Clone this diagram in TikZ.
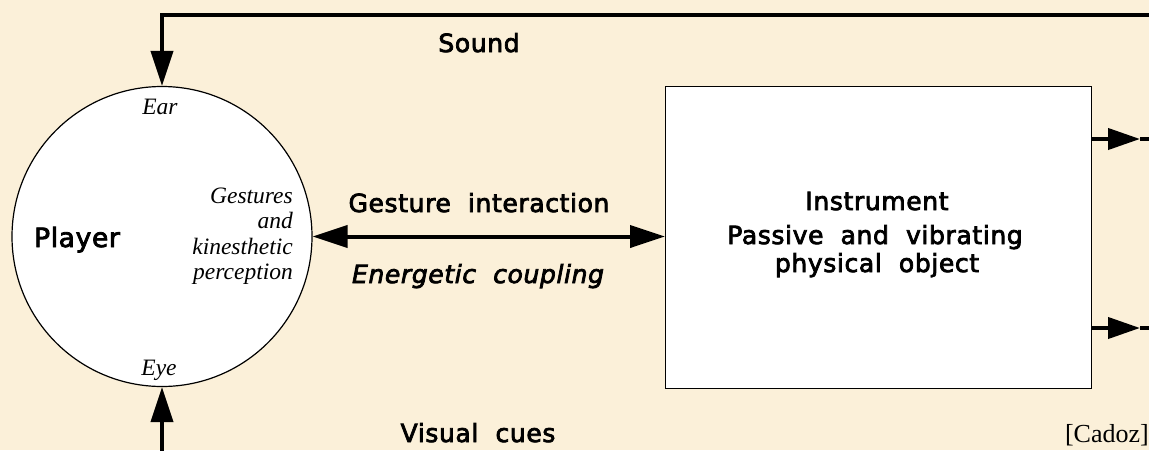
\documentclass[tikz,border=0pt]{standalone}
\usepackage{fontspec}
\usetikzlibrary{arrows.meta}
\newfontfamily\labelfont[LetterSpace=2.5,WordSpace=2,FakeBold=3]{DejaVu Sans}
\newfontfamily\noteserif{Liberation Serif}
\definecolor{parch}{RGB}{251,240,217}
\tikzset{
  conn/.style={line width=4pt},
  bigtip/.style={conn,-{Triangle[length=35pt,width=22pt]}},
  bothtip/.style={conn,{Triangle[length=35pt,width=22pt]}-{Triangle[length=35pt,width=22pt]}},
  outtip/.style={conn,-{Triangle[length=32pt,width=21pt]}},
  lbl/.style={font=\labelfont\fontsize{25}{30}\selectfont, inner sep=0pt, anchor=base},
  lblit/.style={font=\labelfont\itshape\fontsize{25}{30}\selectfont, inner sep=0pt, anchor=base},
  note/.style={font=\noteserif\itshape\fontsize{23.5}{25.5}\selectfont, inner sep=0pt},
}
\begin{document}
\begin{tikzpicture}[x=1pt,y=-1pt]
\useasboundingbox (0,0) rectangle (1149,450);
\fill[parch] (0,0) rectangle (1149,450);
\clip (0,0) rectangle (1149,450);
% shapes
\node[circle, draw, fill=white, line width=1.2pt, minimum size=300pt, inner sep=0pt] (player) at (162,236.5) {};
\node[draw, fill=white, line width=1.2pt, minimum width=426pt, minimum height=302pt, inner sep=0pt, anchor=north west] (instr) at (665,86) {};
% coordinates
\coordinate (sR) at (1160,15);
\coordinate (sL) at (162,15);
\coordinate (vB) at (162,460);
\coordinate (o1) at (1140,139);
\coordinate (o1e) at (1160,139);
\coordinate (o2) at (1140,328);
\coordinate (o2e) at (1160,328);
% connectors
\draw[bigtip] (sR) -- (sL) -- (player.north);
\draw[bigtip] (vB) -- (player.south);
\draw[bothtip] (player.east) -- (player.east -| instr.west);
\draw[outtip] (instr.east |- o1) -- (o1);
\draw[conn] (o1) -- (o1e);
\draw[outtip] (instr.east |- o2) -- (o2);
\draw[conn] (o2) -- (o2e);
% labels
\node[lbl] (sound) at (479,52) {Sound};
\node[lbl] (gest) at (479,212) {Gesture interaction};
\node[lblit] (energ) at (478,283) {Energetic coupling};
\node[lbl] (visual) at (478,442) {Visual cues};
\node[lbl] (instrt) at (877,210) {Instrument};
\node[lbl] (passive) at (875,244) {Passive and vibrating};
\node[lbl] (phys) at (877,272) {physical object};
\node[lbl, font=\labelfont\fontsize{26.5}{30}\selectfont] (playert) at (77,247) {Player};
\node[note, anchor=base] (ear) at (160,114) {Ear};
\node[note, anchor=base] (eye) at (159,375) {Eye};
\node[note, anchor=base east] (g1) at (293,203) {Gestures};
\node[note, anchor=base east] (g2) at (293,228) {and};
\node[note, anchor=base east] (g3) at (293,254) {kinesthetic};
\node[note, anchor=base east] (g4) at (293,279) {perception};
\node[font=\noteserif\fontsize{26}{30}\selectfont, inner sep=0pt, anchor=base east] (cadoz) at (1149,442) {[Cadoz]};
\end{tikzpicture}
\end{document}
